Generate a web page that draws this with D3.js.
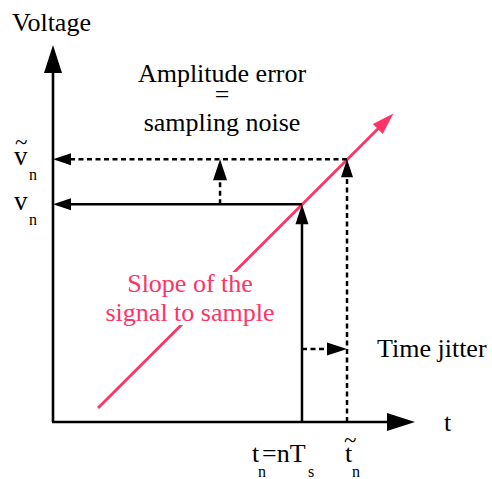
<!DOCTYPE html>
<html><head><meta charset="utf-8">
<script src="https://cdn.jsdelivr.net/npm/d3@7"></script>
<style>html,body{margin:0;padding:0;background:#fff;}svg{display:block;}</style>
</head><body>
<script>
// ---- data (time / voltage units) ----
const axisMax = {t: 8.04, v: 8.38};
const signal = [[1.0, 0.31], [7.56, 6.86]];   // slope of the signal to sample
const tn = 5.53, tnTilde = 6.53;               // ideal / jittered sampling instants
const vn = 4.84, vnTilde = 5.84;               // ideal / erroneous sampled values
const amplitudeArrowT = 3.71;                  // where the amplitude-error arrow is drawn
const jitterArrowV = 1.62;                     // where the time-jitter arrow is drawn
const titleLines = ["Amplitude error", "=", "sampling noise"];
const slopeLines = ["Slope of the", "signal to sample"];

const W = 492, H = 479;
const RED = "#ff3366";
const FONT = "'Liberation Serif','Times New Roman',Times,serif";

const svg = d3.select("body").append("svg").attr("width", W).attr("height", H);
const x = d3.scaleLinear().domain([0, axisMax.t]).range([53, 415]);
const y = d3.scaleLinear().domain([0, axisMax.v]).range([422, 45]);

function arrowHead(x1, y1, x2, y2, len, half, color) {
  const dx = x2 - x1, dy = y2 - y1, L = Math.hypot(dx, dy);
  const ux = dx / L, uy = dy / L;
  const bx = x2 - ux * len, by = y2 - uy * len;
  const pts = [[x2, y2], [bx - uy * half, by + ux * half], [bx + uy * half, by - ux * half]];
  svg.append("polygon").attr("points", pts.map(p => p.join(",")).join(" ")).attr("fill", color);
}
function arrow(x1, y1, x2, y2, opts) {
  const o = Object.assign({color: "#000", width: 2.5, dash: null, len: 20, half: 6.5}, opts || {});
  const dx = x2 - x1, dy = y2 - y1, L = Math.hypot(dx, dy);
  const ex = x2 - dx / L * (o.len * 0.6), ey = y2 - dy / L * (o.len * 0.6);
  const ln = svg.append("line").attr("x1", x1).attr("y1", y1).attr("x2", ex).attr("y2", ey)
    .attr("stroke", o.color).attr("stroke-width", o.width);
  if (o.dash) ln.attr("stroke-dasharray", o.dash);
  arrowHead(x1, y1, x2, y2, o.len, o.half, o.color);
}
const DASH = "5,3.5";

// axes
arrow(x(0), y(0), x(0), y(axisMax.v), {len: 28, half: 9, width: 2.6});
arrow(x(0) - 1, y(0), x(axisMax.t), y(0), {len: 28, half: 9, width: 2.6});

// signal
arrow(x(signal[0][0]), y(signal[0][1]), x(signal[1][0]), y(signal[1][1]), {color: RED, width: 2.8, len: 22, half: 7});

// ideal sample: vertical up to signal, horizontal to v axis
arrow(x(tn), y(0), x(tn), y(vn), {len: 20, half: 6.5});
arrow(x(tn), y(vn), x(0), y(vn), {len: 18, half: 6});

// jittered sample (dashed)
arrow(x(tnTilde), y(0), x(tnTilde), y(vnTilde), {dash: DASH, len: 18, half: 6});
arrow(x(tnTilde), y(vnTilde), x(0), y(vnTilde), {dash: DASH, len: 18, half: 6});

// amplitude error arrow
arrow(x(amplitudeArrowT), y(vn), x(amplitudeArrowT), y(vnTilde), {dash: DASH, len: 21, half: 7});
// time jitter arrow
arrow(x(tn), y(jitterArrowV), x(tnTilde), y(jitterArrowV), {dash: DASH, len: 20, half: 6.5});

// ---- text ----
function txt(s, px, py, opts) {
  const o = Object.assign({size: 26, anchor: "start", color: "#000"}, opts || {});
  return svg.append("text").attr("x", px).attr("y", py).attr("font-family", FONT)
    .attr("font-size", o.size).attr("text-anchor", o.anchor).attr("fill", o.color).text(s);
}
txt("Voltage", 12, 31);
txt("t", x(axisMax.t) + 29, y(0) + 9);
titleLines.forEach((s, i) => txt(s, 222, [82, 103, 131][i], {anchor: "middle"}));

// slope label with white knockout behind it
const slopeTexts = slopeLines.map((s, i) => txt(s, 190, [292, 321][i], {anchor: "middle", color: RED}));
slopeTexts.forEach((t, i) => {
  const b = t.node().getBBox();
  const top = i === 0 ? b.y + 3 : b.y - 2;
  const bottom = b.y + b.height + (i === 0 ? 4 : -2);
  svg.insert("rect", "text").attr("x", b.x - 2).attr("y", top).attr("width", b.width + 4)
    .attr("height", bottom - top).attr("fill", "#fff");
});

txt("Time jitter", 377, y(jitterArrowV) + 8);

// v labels on left
function vLabel(val, tilde) {
  const yy = y(val);
  txt("v", 14, yy + 6, {size: 27});
  if (tilde) txt("~", 15, yy - 9, {size: 23});
  txt("n", 29, yy + 21, {size: 16});
}
vLabel(vn, false);
vLabel(vnTilde, true);

// t labels below
txt("t", x(tn) - 50, 462);
txt("n", x(tn) - 44, 477, {size: 16});
txt("=nT", x(tn) - 40, 462);
txt("s", x(tn) + 6, 477, {size: 16});
txt("t", x(tnTilde) - 2, 462);
txt("~", x(tnTilde) - 3, 448, {size: 23});
txt("n", x(tnTilde) + 5, 477, {size: 16});
</script>
</body></html>
